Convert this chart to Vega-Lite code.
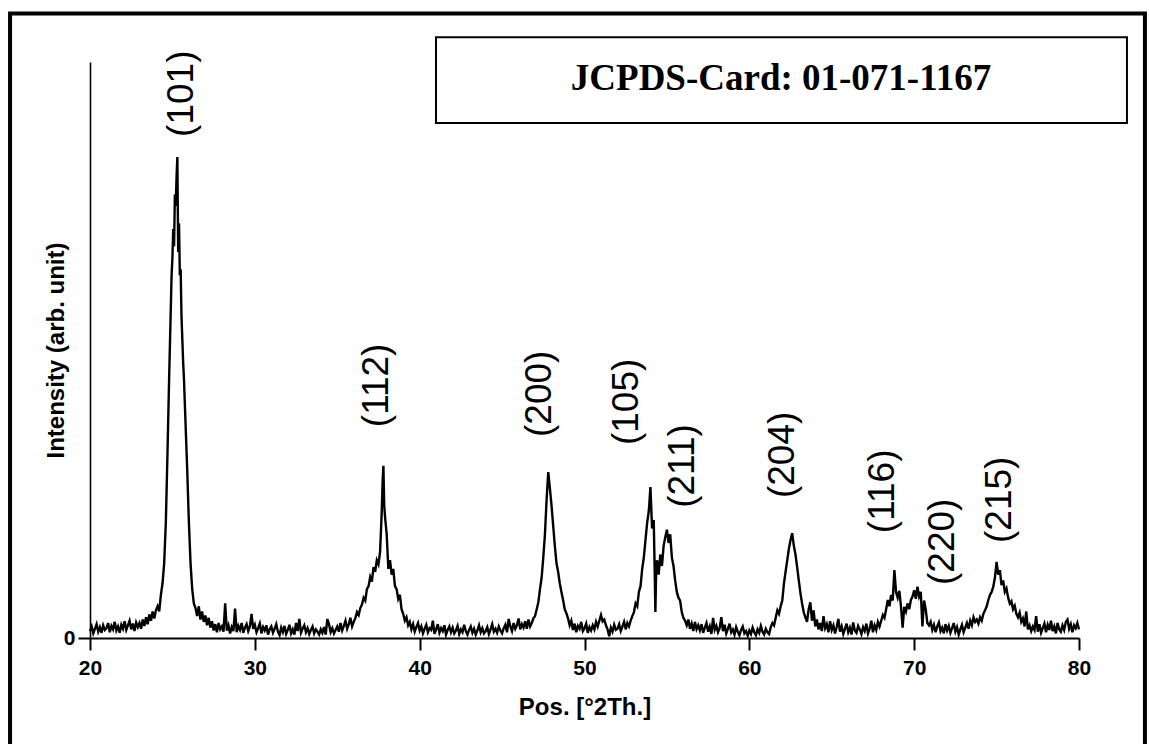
{
  "$schema": "https://vega.github.io/schema/vega-lite/v6.json",
  "width": 989,
  "height": 576,
  "autosize": {"type": "none"},
  "padding": {"left": 90, "top": 62, "right": 70, "bottom": 106},
  "background": "white",
  "config": {"view": {"stroke": null}},
  "datasets": {
    "pattern": [
      {"pos":20.0,"intensity":1.2},{"pos":20.1,"intensity":2.0},{"pos":20.2,"intensity":0.8},{"pos":20.3,"intensity":1.6},{"pos":20.4,"intensity":2.4},{"pos":20.5,"intensity":1.1},{"pos":20.6,"intensity":1.9},{"pos":20.7,"intensity":0.9},{"pos":20.8,"intensity":2.2},{"pos":20.9,"intensity":1.4},
      {"pos":21.0,"intensity":1.7},{"pos":21.1,"intensity":2.6},{"pos":21.2,"intensity":1.0},{"pos":21.3,"intensity":2.1},{"pos":21.4,"intensity":1.5},{"pos":21.5,"intensity":2.8},{"pos":21.6,"intensity":1.3},{"pos":21.7,"intensity":2.0},{"pos":21.8,"intensity":0.9},{"pos":21.9,"intensity":2.3},
      {"pos":22.0,"intensity":1.6},{"pos":22.1,"intensity":2.9},{"pos":22.2,"intensity":1.4},{"pos":22.3,"intensity":2.2},{"pos":22.4,"intensity":3.0},{"pos":22.5,"intensity":1.5},{"pos":22.6,"intensity":2.5},{"pos":22.7,"intensity":1.2},{"pos":22.8,"intensity":2.7},{"pos":22.9,"intensity":1.9},
      {"pos":23.0,"intensity":2.6},{"pos":23.1,"intensity":1.6},{"pos":23.2,"intensity":3.2},{"pos":23.3,"intensity":2.1},{"pos":23.4,"intensity":3.6},{"pos":23.5,"intensity":2.4},{"pos":23.6,"intensity":4.1},{"pos":23.7,"intensity":3.0},{"pos":23.8,"intensity":4.6},{"pos":23.9,"intensity":3.4},
      {"pos":24.0,"intensity":4.8},{"pos":24.1,"intensity":5.5},{"pos":24.2,"intensity":4.6},{"pos":24.3,"intensity":7.5},{"pos":24.4,"intensity":9.5},{"pos":24.5,"intensity":13.0},{"pos":24.6,"intensity":20.0},{"pos":24.7,"intensity":32.0},{"pos":24.8,"intensity":45.0},{"pos":24.9,"intensity":57.0},
      {"pos":24.95,"intensity":63.0},{"pos":25.0,"intensity":66.0},{"pos":25.05,"intensity":71.0},{"pos":25.1,"intensity":68.0},{"pos":25.15,"intensity":77.0},{"pos":25.2,"intensity":75.0},{"pos":25.25,"intensity":80.0},{"pos":25.3,"intensity":83.5},{"pos":25.35,"intensity":67.0},{"pos":25.4,"intensity":72.0},{"pos":25.45,"intensity":63.0},{"pos":25.5,"intensity":64.0},{"pos":25.55,"intensity":56.0},{"pos":25.6,"intensity":52.0},{"pos":25.65,"intensity":48.0},{"pos":25.7,"intensity":45.0},{"pos":25.8,"intensity":37.0},{"pos":25.9,"intensity":29.0},
      {"pos":26.0,"intensity":20.0},{"pos":26.1,"intensity":13.0},{"pos":26.2,"intensity":8.5},{"pos":26.3,"intensity":6.0},{"pos":26.4,"intensity":5.2},{"pos":26.5,"intensity":3.8},{"pos":26.6,"intensity":5.5},{"pos":26.7,"intensity":3.2},{"pos":26.8,"intensity":4.6},{"pos":26.9,"intensity":2.8},
      {"pos":27.0,"intensity":3.9},{"pos":27.1,"intensity":2.2},{"pos":27.2,"intensity":3.5},{"pos":27.3,"intensity":1.8},{"pos":27.4,"intensity":2.9},{"pos":27.5,"intensity":1.3},{"pos":27.6,"intensity":2.4},{"pos":27.7,"intensity":1.0},{"pos":27.8,"intensity":2.6},{"pos":27.9,"intensity":1.5},
      {"pos":28.0,"intensity":2.0},{"pos":28.1,"intensity":1.1},{"pos":28.2,"intensity":6.0},{"pos":28.3,"intensity":1.3},{"pos":28.4,"intensity":2.2},{"pos":28.5,"intensity":0.8},{"pos":28.6,"intensity":1.9},{"pos":28.7,"intensity":1.2},{"pos":28.8,"intensity":5.1},{"pos":28.9,"intensity":1.0},
      {"pos":29.0,"intensity":2.1},{"pos":29.1,"intensity":1.4},{"pos":29.2,"intensity":2.6},{"pos":29.3,"intensity":0.9},{"pos":29.4,"intensity":1.8},{"pos":29.5,"intensity":2.4},{"pos":29.6,"intensity":1.2},{"pos":29.7,"intensity":2.0},{"pos":29.8,"intensity":4.2},{"pos":29.9,"intensity":1.6},
      {"pos":30.0,"intensity":2.3},{"pos":30.1,"intensity":1.0},{"pos":30.2,"intensity":1.7},{"pos":30.3,"intensity":2.5},{"pos":30.4,"intensity":0.8},{"pos":30.5,"intensity":1.9},{"pos":30.6,"intensity":1.3},{"pos":30.7,"intensity":2.2},{"pos":30.8,"intensity":0.6},{"pos":30.9,"intensity":1.5},
      {"pos":31.0,"intensity":2.0},{"pos":31.1,"intensity":0.9},{"pos":31.2,"intensity":1.6},{"pos":31.3,"intensity":2.4},{"pos":31.4,"intensity":1.1},{"pos":31.5,"intensity":0.5},{"pos":31.6,"intensity":1.8},{"pos":31.7,"intensity":1.0},{"pos":31.8,"intensity":2.1},{"pos":31.9,"intensity":0.7},
      {"pos":32.0,"intensity":1.4},{"pos":32.1,"intensity":2.3},{"pos":32.2,"intensity":0.8},{"pos":32.3,"intensity":1.5},{"pos":32.4,"intensity":0.6},{"pos":32.5,"intensity":2.6},{"pos":32.6,"intensity":1.2},{"pos":32.7,"intensity":3.3},{"pos":32.8,"intensity":0.9},{"pos":32.9,"intensity":1.6},
      {"pos":33.0,"intensity":2.2},{"pos":33.1,"intensity":1.0},{"pos":33.2,"intensity":1.7},{"pos":33.3,"intensity":0.7},{"pos":33.4,"intensity":1.4},{"pos":33.5,"intensity":2.0},{"pos":33.6,"intensity":0.8},{"pos":33.7,"intensity":1.5},{"pos":33.8,"intensity":1.1},{"pos":33.9,"intensity":0.6},
      {"pos":34.0,"intensity":1.5},{"pos":34.1,"intensity":0.9},{"pos":34.2,"intensity":1.9},{"pos":34.3,"intensity":0.6},{"pos":34.4,"intensity":3.3},{"pos":34.5,"intensity":2.4},{"pos":34.6,"intensity":1.0},{"pos":34.7,"intensity":1.7},{"pos":34.8,"intensity":0.8},{"pos":34.9,"intensity":1.4},
      {"pos":35.0,"intensity":2.0},{"pos":35.1,"intensity":1.1},{"pos":35.2,"intensity":2.6},{"pos":35.3,"intensity":1.3},{"pos":35.4,"intensity":2.1},{"pos":35.5,"intensity":3.0},{"pos":35.6,"intensity":1.6},{"pos":35.7,"intensity":2.4},{"pos":35.8,"intensity":3.5},{"pos":35.9,"intensity":2.0},
      {"pos":36.0,"intensity":2.8},{"pos":36.1,"intensity":3.5},{"pos":36.2,"intensity":4.5},{"pos":36.3,"intensity":4.0},{"pos":36.4,"intensity":5.2},{"pos":36.5,"intensity":5.8},{"pos":36.6,"intensity":7.0},{"pos":36.7,"intensity":6.5},{"pos":36.8,"intensity":8.5},{"pos":36.9,"intensity":9.0},
      {"pos":37.0,"intensity":10.6},{"pos":37.1,"intensity":9.8},{"pos":37.2,"intensity":12.3},{"pos":37.3,"intensity":11.5},{"pos":37.4,"intensity":13.5},{"pos":37.5,"intensity":12.8},{"pos":37.6,"intensity":15.0},{"pos":37.7,"intensity":22.0},{"pos":37.75,"intensity":27.0},{"pos":37.8,"intensity":29.9},{"pos":37.85,"intensity":23.0},{"pos":37.9,"intensity":21.0},
      {"pos":38.0,"intensity":18.0},{"pos":38.1,"intensity":12.0},{"pos":38.2,"intensity":13.5},{"pos":38.3,"intensity":11.0},{"pos":38.4,"intensity":12.0},{"pos":38.5,"intensity":9.0},{"pos":38.6,"intensity":8.5},{"pos":38.7,"intensity":6.8},{"pos":38.8,"intensity":7.5},{"pos":38.9,"intensity":5.0},
      {"pos":39.0,"intensity":4.2},{"pos":39.1,"intensity":3.0},{"pos":39.2,"intensity":3.6},{"pos":39.3,"intensity":2.2},{"pos":39.4,"intensity":2.8},{"pos":39.5,"intensity":1.5},{"pos":39.6,"intensity":2.4},{"pos":39.7,"intensity":1.1},{"pos":39.8,"intensity":1.9},{"pos":39.9,"intensity":2.6},
      {"pos":40.0,"intensity":1.3},{"pos":40.1,"intensity":2.0},{"pos":40.2,"intensity":0.8},{"pos":40.3,"intensity":1.6},{"pos":40.4,"intensity":2.3},{"pos":40.5,"intensity":1.0},{"pos":40.6,"intensity":1.7},{"pos":40.7,"intensity":1.4},{"pos":40.8,"intensity":3.0},{"pos":40.9,"intensity":0.7},
      {"pos":41.0,"intensity":1.5},{"pos":41.1,"intensity":2.4},{"pos":41.2,"intensity":0.9},{"pos":41.3,"intensity":1.7},{"pos":41.4,"intensity":1.2},{"pos":41.5,"intensity":2.2},{"pos":41.6,"intensity":0.6},{"pos":41.7,"intensity":1.4},{"pos":41.8,"intensity":2.0},{"pos":41.9,"intensity":1.0},
      {"pos":42.0,"intensity":1.8},{"pos":42.1,"intensity":0.8},{"pos":42.2,"intensity":1.3},{"pos":42.3,"intensity":2.1},{"pos":42.4,"intensity":0.7},{"pos":42.5,"intensity":1.5},{"pos":42.6,"intensity":1.0},{"pos":42.7,"intensity":2.3},{"pos":42.8,"intensity":1.2},{"pos":42.9,"intensity":0.6},
      {"pos":43.0,"intensity":1.4},{"pos":43.1,"intensity":2.0},{"pos":43.2,"intensity":0.9},{"pos":43.3,"intensity":1.6},{"pos":43.4,"intensity":0.6},{"pos":43.5,"intensity":1.3},{"pos":43.6,"intensity":2.2},{"pos":43.7,"intensity":1.0},{"pos":43.8,"intensity":1.7},{"pos":43.9,"intensity":0.8},
      {"pos":44.0,"intensity":1.2},{"pos":44.1,"intensity":1.9},{"pos":44.2,"intensity":0.7},{"pos":44.3,"intensity":1.5},{"pos":44.4,"intensity":2.4},{"pos":44.5,"intensity":1.1},{"pos":44.6,"intensity":1.6},{"pos":44.7,"intensity":0.9},{"pos":44.8,"intensity":2.0},{"pos":44.9,"intensity":1.3},
      {"pos":45.0,"intensity":0.8},{"pos":45.1,"intensity":1.7},{"pos":45.2,"intensity":2.3},{"pos":45.3,"intensity":1.0},{"pos":45.4,"intensity":3.3},{"pos":45.5,"intensity":2.0},{"pos":45.6,"intensity":1.2},{"pos":45.7,"intensity":2.6},{"pos":45.8,"intensity":1.6},{"pos":45.9,"intensity":2.2},
      {"pos":46.0,"intensity":3.4},{"pos":46.1,"intensity":1.5},{"pos":46.2,"intensity":2.4},{"pos":46.3,"intensity":1.8},{"pos":46.4,"intensity":2.9},{"pos":46.5,"intensity":1.6},{"pos":46.6,"intensity":3.2},{"pos":46.7,"intensity":2.0},{"pos":46.8,"intensity":2.6},{"pos":46.9,"intensity":3.4},
      {"pos":47.0,"intensity":3.8},{"pos":47.1,"intensity":5.0},{"pos":47.2,"intensity":6.2},{"pos":47.3,"intensity":8.5},{"pos":47.4,"intensity":10.5},{"pos":47.5,"intensity":14.0},{"pos":47.6,"intensity":18.0},{"pos":47.7,"intensity":24.0},{"pos":47.8,"intensity":28.8},{"pos":47.9,"intensity":26.0},
      {"pos":48.0,"intensity":23.0},{"pos":48.1,"intensity":19.5},{"pos":48.2,"intensity":16.0},{"pos":48.3,"intensity":13.0},{"pos":48.4,"intensity":11.5},{"pos":48.5,"intensity":9.5},{"pos":48.6,"intensity":8.0},{"pos":48.7,"intensity":6.6},{"pos":48.8,"intensity":5.0},{"pos":48.9,"intensity":4.3},
      {"pos":49.0,"intensity":3.4},{"pos":49.1,"intensity":2.2},{"pos":49.2,"intensity":3.0},{"pos":49.3,"intensity":1.4},{"pos":49.4,"intensity":2.5},{"pos":49.5,"intensity":1.0},{"pos":49.6,"intensity":2.1},{"pos":49.7,"intensity":1.6},{"pos":49.8,"intensity":2.8},{"pos":49.9,"intensity":1.2},
      {"pos":50.0,"intensity":1.7},{"pos":50.1,"intensity":2.5},{"pos":50.2,"intensity":0.9},{"pos":50.3,"intensity":1.9},{"pos":50.4,"intensity":1.3},{"pos":50.5,"intensity":2.2},{"pos":50.6,"intensity":1.5},{"pos":50.7,"intensity":2.8},{"pos":50.8,"intensity":2.0},{"pos":50.9,"intensity":3.0},
      {"pos":51.0,"intensity":4.0},{"pos":51.1,"intensity":2.9},{"pos":51.2,"intensity":3.2},{"pos":51.3,"intensity":2.2},{"pos":51.4,"intensity":1.5},{"pos":51.5,"intensity":0.3},{"pos":51.6,"intensity":1.8},{"pos":51.7,"intensity":1.1},{"pos":51.8,"intensity":2.3},{"pos":51.9,"intensity":1.4},
      {"pos":52.0,"intensity":1.6},{"pos":52.1,"intensity":2.4},{"pos":52.2,"intensity":1.2},{"pos":52.3,"intensity":2.0},{"pos":52.4,"intensity":2.8},{"pos":52.5,"intensity":1.5},{"pos":52.6,"intensity":2.6},{"pos":52.7,"intensity":2.0},{"pos":52.8,"intensity":3.0},{"pos":52.9,"intensity":3.8},
      {"pos":53.0,"intensity":4.5},{"pos":53.1,"intensity":6.0},{"pos":53.2,"intensity":5.5},{"pos":53.3,"intensity":8.0},{"pos":53.4,"intensity":9.0},{"pos":53.5,"intensity":12.0},{"pos":53.6,"intensity":14.0},{"pos":53.7,"intensity":17.0},{"pos":53.8,"intensity":20.0},{"pos":53.9,"intensity":22.0},
      {"pos":54.0,"intensity":26.2},{"pos":54.1,"intensity":19.0},{"pos":54.2,"intensity":20.5},{"pos":54.25,"intensity":13.0},{"pos":54.3,"intensity":4.5},{"pos":54.35,"intensity":12.0},{"pos":54.4,"intensity":13.5},{"pos":54.5,"intensity":11.0},{"pos":54.6,"intensity":14.5},{"pos":54.7,"intensity":12.5},{"pos":54.8,"intensity":16.0},{"pos":54.9,"intensity":17.5},
      {"pos":55.0,"intensity":18.8},{"pos":55.1,"intensity":16.5},{"pos":55.2,"intensity":18.0},{"pos":55.3,"intensity":14.0},{"pos":55.4,"intensity":12.5},{"pos":55.5,"intensity":10.0},{"pos":55.6,"intensity":8.0},{"pos":55.7,"intensity":7.0},{"pos":55.8,"intensity":6.5},{"pos":55.9,"intensity":4.5},
      {"pos":56.0,"intensity":3.5},{"pos":56.1,"intensity":3.0},{"pos":56.2,"intensity":2.2},{"pos":56.3,"intensity":3.2},{"pos":56.4,"intensity":1.6},{"pos":56.5,"intensity":2.5},{"pos":56.6,"intensity":1.2},{"pos":56.7,"intensity":2.8},{"pos":56.8,"intensity":1.5},{"pos":56.9,"intensity":2.2},
      {"pos":57.0,"intensity":1.3},{"pos":57.1,"intensity":2.4},{"pos":57.2,"intensity":0.9},{"pos":57.3,"intensity":1.8},{"pos":57.4,"intensity":2.6},{"pos":57.5,"intensity":1.1},{"pos":57.6,"intensity":2.0},{"pos":57.7,"intensity":0.7},{"pos":57.8,"intensity":3.5},{"pos":57.9,"intensity":1.4},
      {"pos":58.0,"intensity":2.1},{"pos":58.1,"intensity":1.0},{"pos":58.2,"intensity":1.7},{"pos":58.3,"intensity":3.6},{"pos":58.4,"intensity":1.2},{"pos":58.5,"intensity":2.3},{"pos":58.6,"intensity":0.8},{"pos":58.7,"intensity":1.6},{"pos":58.8,"intensity":2.5},{"pos":58.9,"intensity":1.0},
      {"pos":59.0,"intensity":1.5},{"pos":59.1,"intensity":0.6},{"pos":59.2,"intensity":1.9},{"pos":59.3,"intensity":1.1},{"pos":59.4,"intensity":0.5},{"pos":59.5,"intensity":1.4},{"pos":59.6,"intensity":2.0},{"pos":59.7,"intensity":0.8},{"pos":59.8,"intensity":1.2},{"pos":59.9,"intensity":0.4},
      {"pos":60.0,"intensity":1.3},{"pos":60.1,"intensity":0.7},{"pos":60.2,"intensity":1.8},{"pos":60.3,"intensity":1.0},{"pos":60.4,"intensity":0.5},{"pos":60.5,"intensity":1.5},{"pos":60.6,"intensity":0.9},{"pos":60.7,"intensity":2.1},{"pos":60.8,"intensity":1.1},{"pos":60.9,"intensity":0.6},
      {"pos":61.0,"intensity":1.6},{"pos":61.1,"intensity":1.0},{"pos":61.2,"intensity":0.7},{"pos":61.3,"intensity":1.9},{"pos":61.4,"intensity":2.6},{"pos":61.5,"intensity":2.2},{"pos":61.6,"intensity":3.5},{"pos":61.7,"intensity":4.8},{"pos":61.8,"intensity":4.2},{"pos":61.9,"intensity":5.5},
      {"pos":62.0,"intensity":6.5},{"pos":62.1,"intensity":9.5},{"pos":62.2,"intensity":11.5},{"pos":62.3,"intensity":13.5},{"pos":62.4,"intensity":15.5},{"pos":62.5,"intensity":17.0},{"pos":62.6,"intensity":18.2},{"pos":62.7,"intensity":16.0},{"pos":62.8,"intensity":14.5},{"pos":62.9,"intensity":12.3},
      {"pos":63.0,"intensity":10.0},{"pos":63.1,"intensity":7.8},{"pos":63.2,"intensity":6.0},{"pos":63.3,"intensity":4.5},{"pos":63.4,"intensity":3.6},{"pos":63.5,"intensity":2.8},{"pos":63.6,"intensity":5.0},{"pos":63.7,"intensity":6.2},{"pos":63.8,"intensity":3.0},{"pos":63.9,"intensity":4.8},
      {"pos":64.0,"intensity":2.0},{"pos":64.1,"intensity":3.2},{"pos":64.2,"intensity":1.5},{"pos":64.3,"intensity":2.6},{"pos":64.4,"intensity":1.2},{"pos":64.5,"intensity":3.8},{"pos":64.6,"intensity":1.7},{"pos":64.7,"intensity":2.4},{"pos":64.8,"intensity":1.0},{"pos":64.9,"intensity":2.9},
      {"pos":65.0,"intensity":1.4},{"pos":65.1,"intensity":2.2},{"pos":65.2,"intensity":0.8},{"pos":65.3,"intensity":1.9},{"pos":65.4,"intensity":3.3},{"pos":65.5,"intensity":1.1},{"pos":65.6,"intensity":2.0},{"pos":65.7,"intensity":0.7},{"pos":65.8,"intensity":1.6},{"pos":65.9,"intensity":2.5},
      {"pos":66.0,"intensity":1.0},{"pos":66.1,"intensity":1.8},{"pos":66.2,"intensity":0.6},{"pos":66.3,"intensity":2.7},{"pos":66.4,"intensity":1.3},{"pos":66.5,"intensity":0.9},{"pos":66.6,"intensity":2.1},{"pos":66.7,"intensity":1.5},{"pos":66.8,"intensity":0.7},{"pos":66.9,"intensity":1.9},
      {"pos":67.0,"intensity":1.2},{"pos":67.1,"intensity":2.5},{"pos":67.2,"intensity":0.8},{"pos":67.3,"intensity":1.6},{"pos":67.4,"intensity":3.0},{"pos":67.5,"intensity":1.0},{"pos":67.6,"intensity":2.2},{"pos":67.7,"intensity":1.4},{"pos":67.8,"intensity":2.8},{"pos":67.9,"intensity":2.0},
      {"pos":68.0,"intensity":3.0},{"pos":68.1,"intensity":4.0},{"pos":68.2,"intensity":3.5},{"pos":68.3,"intensity":5.0},{"pos":68.4,"intensity":6.6},{"pos":68.5,"intensity":5.5},{"pos":68.6,"intensity":7.5},{"pos":68.7,"intensity":6.5},{"pos":68.8,"intensity":11.8},{"pos":68.9,"intensity":8.0},
      {"pos":69.0,"intensity":7.0},{"pos":69.1,"intensity":8.2},{"pos":69.2,"intensity":5.5},{"pos":69.3,"intensity":1.8},{"pos":69.4,"intensity":5.4},{"pos":69.5,"intensity":4.6},{"pos":69.6,"intensity":6.0},{"pos":69.7,"intensity":5.0},{"pos":69.8,"intensity":6.6},{"pos":69.9,"intensity":7.2},
      {"pos":70.0,"intensity":8.3},{"pos":70.1,"intensity":6.8},{"pos":70.2,"intensity":8.9},{"pos":70.3,"intensity":7.2},{"pos":70.4,"intensity":8.0},{"pos":70.5,"intensity":2.0},{"pos":70.6,"intensity":6.5},{"pos":70.7,"intensity":5.0},{"pos":70.8,"intensity":2.6},{"pos":70.9,"intensity":2.2},
      {"pos":71.0,"intensity":2.8},{"pos":71.1,"intensity":1.4},{"pos":71.2,"intensity":2.3},{"pos":71.3,"intensity":1.0},{"pos":71.4,"intensity":2.0},{"pos":71.5,"intensity":2.7},{"pos":71.6,"intensity":1.2},{"pos":71.7,"intensity":1.8},{"pos":71.8,"intensity":0.8},{"pos":71.9,"intensity":2.4},
      {"pos":72.0,"intensity":1.3},{"pos":72.1,"intensity":2.1},{"pos":72.2,"intensity":0.9},{"pos":72.3,"intensity":1.7},{"pos":72.4,"intensity":2.6},{"pos":72.5,"intensity":1.1},{"pos":72.6,"intensity":1.9},{"pos":72.7,"intensity":0.6},{"pos":72.8,"intensity":1.5},{"pos":72.9,"intensity":2.3},
      {"pos":73.0,"intensity":1.0},{"pos":73.1,"intensity":1.8},{"pos":73.2,"intensity":2.6},{"pos":73.3,"intensity":1.6},{"pos":73.4,"intensity":3.0},{"pos":73.5,"intensity":2.2},{"pos":73.6,"intensity":3.6},{"pos":73.7,"intensity":2.8},{"pos":73.8,"intensity":3.2},{"pos":73.9,"intensity":2.5},
      {"pos":74.0,"intensity":3.6},{"pos":74.1,"intensity":3.0},{"pos":74.2,"intensity":4.2},{"pos":74.3,"intensity":4.8},{"pos":74.4,"intensity":5.5},{"pos":74.5,"intensity":6.6},{"pos":74.6,"intensity":7.5},{"pos":74.7,"intensity":8.0},{"pos":74.8,"intensity":8.9},{"pos":74.9,"intensity":10.5},
      {"pos":75.0,"intensity":13.2},{"pos":75.1,"intensity":11.0},{"pos":75.2,"intensity":11.8},{"pos":75.3,"intensity":9.2},{"pos":75.4,"intensity":10.0},{"pos":75.5,"intensity":8.0},{"pos":75.6,"intensity":8.6},{"pos":75.7,"intensity":7.0},{"pos":75.8,"intensity":6.0},{"pos":75.9,"intensity":6.4},
      {"pos":76.0,"intensity":5.0},{"pos":76.1,"intensity":5.6},{"pos":76.2,"intensity":4.2},{"pos":76.3,"intensity":3.6},{"pos":76.4,"intensity":4.4},{"pos":76.5,"intensity":2.8},{"pos":76.6,"intensity":3.4},{"pos":76.7,"intensity":2.0},{"pos":76.8,"intensity":4.6},{"pos":76.9,"intensity":1.5},
      {"pos":77.0,"intensity":2.2},{"pos":77.1,"intensity":1.2},{"pos":77.2,"intensity":2.0},{"pos":77.3,"intensity":1.4},{"pos":77.4,"intensity":3.8},{"pos":77.5,"intensity":1.1},{"pos":77.6,"intensity":2.4},{"pos":77.7,"intensity":0.9},{"pos":77.8,"intensity":1.7},{"pos":77.9,"intensity":2.5},
      {"pos":78.0,"intensity":1.0},{"pos":78.1,"intensity":2.3},{"pos":78.2,"intensity":1.4},{"pos":78.3,"intensity":3.0},{"pos":78.4,"intensity":1.2},{"pos":78.5,"intensity":2.0},{"pos":78.6,"intensity":0.8},{"pos":78.7,"intensity":2.6},{"pos":78.8,"intensity":1.5},{"pos":78.9,"intensity":1.1},
      {"pos":79.0,"intensity":2.2},{"pos":79.1,"intensity":1.4},{"pos":79.2,"intensity":2.8},{"pos":79.3,"intensity":3.2},{"pos":79.4,"intensity":1.6},{"pos":79.5,"intensity":2.4},{"pos":79.6,"intensity":1.0},{"pos":79.7,"intensity":2.2},{"pos":79.8,"intensity":1.7},{"pos":79.9,"intensity":2.6},
      {"pos":80.0,"intensity":1.5}
    ],
    "planes": [
      {"hkl":"(101)","pos":25.58,"intensity":87.0},
      {"hkl":"(112)","pos":37.42,"intensity":36.6},
      {"hkl":"(200)","pos":47.31,"intensity":34.9},
      {"hkl":"(105)","pos":52.58,"intensity":33.5},
      {"hkl":"(211)","pos":55.98,"intensity":22.6},
      {"hkl":"(204)","pos":62.05,"intensity":24.3},
      {"hkl":"(116)","pos":68.12,"intensity":18.2},
      {"hkl":"(220)","pos":71.76,"intensity":9.2},
      {"hkl":"(215)","pos":75.22,"intensity":16.5}
    ]
  },
  "layer": [
    {
      "data": {"values": [{}]},
      "mark": {"type": "rect", "fill": null, "stroke": "black", "strokeWidth": 4, "clip": false},
      "encoding": {
        "x": {"datum": 15.15, "type": "quantitative"},
        "x2": {"datum": 84.0},
        "y": {"datum": 108.4, "type": "quantitative"},
        "y2": {"datum": -25}
      }
    },
    {
      "data": {"values": [{}]},
      "mark": {"type": "rect", "fill": "white", "stroke": "black", "strokeWidth": 2},
      "encoding": {
        "x": {"datum": 40.99, "type": "quantitative"},
        "x2": {"datum": 82.91},
        "y": {"datum": 104.3, "type": "quantitative"},
        "y2": {"datum": 89.4}
      }
    },
    {
      "data": {"values": [{"card": "JCPDS-Card: 01-071-1167"}]},
      "mark": {"type": "text", "font": "Liberation Serif", "fontWeight": "bold", "fontSize": 37, "color": "black", "align": "center", "baseline": "middle"},
      "encoding": {
        "x": {"datum": 61.92, "type": "quantitative"},
        "y": {"datum": 97.0, "type": "quantitative"},
        "text": {"field": "card"}
      }
    },
    {
      "data": {"name": "pattern"},
      "mark": {"type": "line", "color": "black", "strokeWidth": 2.4, "strokeJoin": "miter"},
      "encoding": {
        "x": {
          "field": "pos", "type": "quantitative",
          "scale": {"domain": [20, 80], "nice": false, "zero": false},
          "axis": {
            "title": "Pos. [°2Th.]", "values": [20, 30, 40, 50, 60, 70, 80], "format": "d",
            "grid": false, "labelFlush": false,
            "domainColor": "black", "domainWidth": 2, "tickColor": "black", "tickWidth": 2, "tickSize": 12,
            "labelFont": "Liberation Sans", "labelFontWeight": "bold", "labelFontSize": 21, "labelColor": "black", "labelPadding": 7,
            "titleFont": "Liberation Sans", "titleFontWeight": "bold", "titleFontSize": 24, "titleColor": "black", "titlePadding": 17
          }
        },
        "y": {
          "field": "intensity", "type": "quantitative",
          "scale": {"domain": [0, 100], "nice": false},
          "axis": {
            "title": "Intensity (arb. unit)", "values": [0], "format": "d",
            "grid": false, "labelFlush": false,
            "domainColor": "black", "domainWidth": 1.6, "tickColor": "black", "tickWidth": 2, "tickSize": 12,
            "labelFont": "Liberation Sans", "labelFontWeight": "bold", "labelFontSize": 21, "labelColor": "black", "labelPadding": 3,
            "titleFont": "Liberation Sans", "titleFontWeight": "bold", "titleFontSize": 24, "titleColor": "black", "titlePadding": -5
          }
        }
      }
    },
    {
      "data": {"name": "planes"},
      "mark": {"type": "text", "font": "Liberation Sans", "fontSize": 37, "color": "black", "angle": 270, "align": "left", "baseline": "middle"},
      "encoding": {
        "x": {"field": "pos", "type": "quantitative"},
        "y": {"field": "intensity", "type": "quantitative"},
        "text": {"field": "hkl"}
      }
    }
  ]
}
